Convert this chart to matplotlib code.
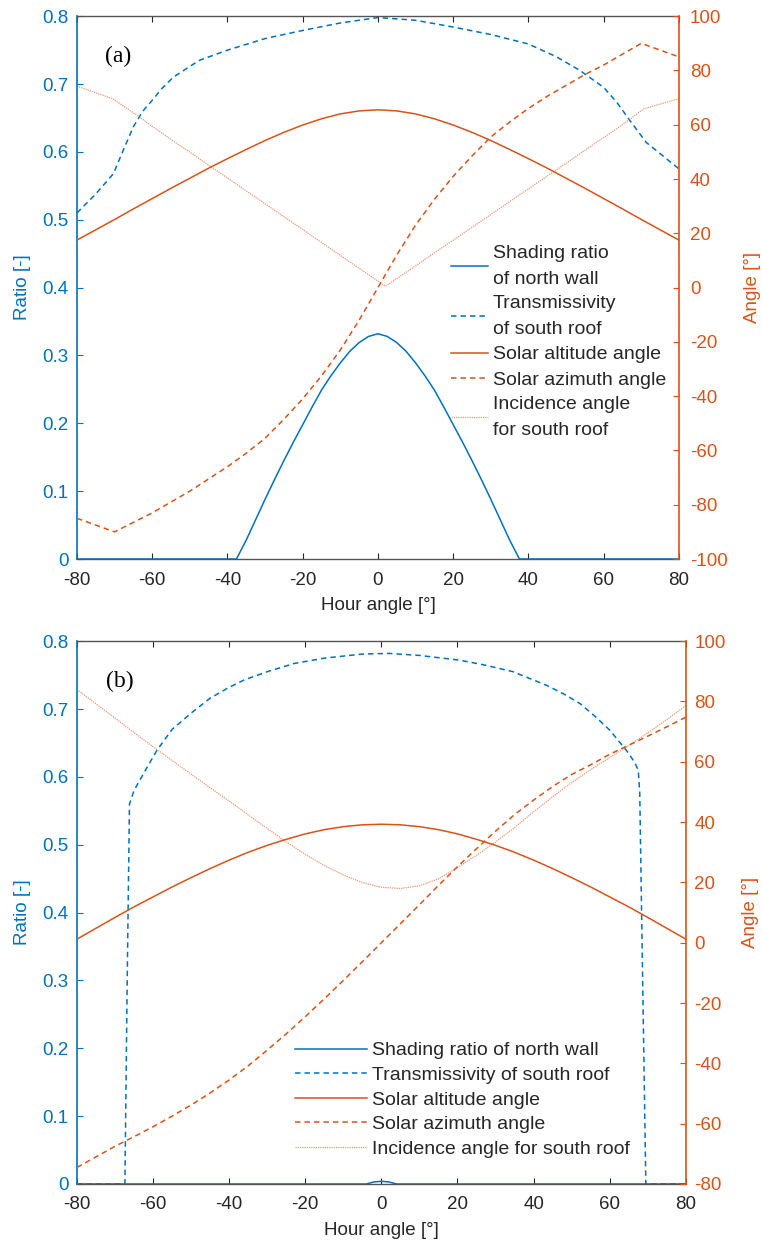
import matplotlib.pyplot as plt

plt.rcParams['font.family'] = ['Liberation Sans', 'DejaVu Sans']
plt.rcParams['axes.unicode_minus'] = False

BLUE = '#0072BD'
ORANGE = '#D95319'
DARK = '#262626'

# ---------------- panel (a) data ----------------
a_shade_h = [-80, -37.6, -35, -32.5, -30, -27.5, -25, -22.5, -20, -17.5, -15, -12.5, -10, -7.5, -5, -2.5, 0,
             2.5, 5, 7.5, 10, 12.5, 15, 17.5, 20, 22.5, 25, 27.5, 30, 32.5, 35, 37.6, 80]
a_shade = [0, 0, 0.028, 0.058, 0.088, 0.117, 0.145, 0.172, 0.198, 0.224, 0.249, 0.27, 0.289, 0.306, 0.319, 0.328, 0.332,
           0.328, 0.319, 0.306, 0.289, 0.27, 0.249, 0.224, 0.198, 0.172, 0.145, 0.117, 0.088, 0.058, 0.028, 0, 0]

a_trans_h = [-80, -75, -70.3, -67.5, -65, -62.5, -60, -57.5, -54.4, -50, -47.4, -40, -30, -20, -10, 0,
             10, 20, 30, 40, 47.5, 53.7, 60, 63.5, 67, 71.3, 80]
a_trans = [0.51, 0.538, 0.568, 0.605, 0.637, 0.66, 0.676, 0.693, 0.71, 0.726, 0.735, 0.75, 0.767, 0.779, 0.79, 0.798,
           0.794, 0.784, 0.773, 0.759, 0.74, 0.72, 0.695, 0.673, 0.646, 0.614, 0.575]

a_ang_h = [-80, -75, -70, -65, -60, -55, -50, -45, -40, -35, -30, -25, -20, -15, -10, -5, 0,
           5, 10, 15, 20, 25, 30, 35, 40, 45, 50, 55, 60, 65, 70, 75, 80]
a_alt = [17.5, 21.3, 25.1, 29.0, 32.8, 36.6, 40.3, 44.0, 47.5, 50.9, 54.2, 57.2, 59.9, 62.2, 64.0, 65.1, 65.5,
         65.1, 64.0, 62.2, 59.9, 57.2, 54.2, 50.9, 47.5, 44.0, 40.3, 36.6, 32.8, 29.0, 25.1, 21.3, 17.5]
a_azi = [-85, -87.5, -90, -86.5, -83, -79, -75, -70.5, -66, -61, -55.5, -48.5, -41, -32.5, -23, -12, 0,
         12, 23, 32.5, 41, 48.5, 55.5, 61, 66, 70.5, 74.5, 78.5, 82, 86, 90, 87.5, 85]

a_inc_h = [-80, -70.5, -65, -60, -55, -50, -45, -40, -35, -30, -25, -20, -15, -10, -5, 0, 2,
           5, 10, 15, 20, 25, 30, 35, 40, 45, 50, 55, 60, 65, 70.7, 80]
a_inc = [74.2, 69.6, 64.4, 59.4, 54.6, 49.9, 45.1, 40.4, 35.6, 30.9, 26.1, 21.4, 16.6, 11.9, 7.1, 2.4, 0.5,
         3.3, 8.0, 12.8, 17.5, 22.2, 26.9, 31.7, 36.4, 41.1, 45.8, 50.6, 55.3, 60.0, 65.9, 69.6]

# ---------------- panel (b) data ----------------
b_shade_h = [-80, -4, -2, 0, 2, 4, 80]
b_shade = [0, 0, 0.003, 0.004, 0.003, 0, 0]

b_trans_h = [-80, -67.4, -66.8, -66.2, -65, -62.5, -59, -55, -50, -45, -40, -36, -30, -23, -15, -5, 2,
             10, 20.6, 27, 34.6, 43.4, 48, 52.2, 56, 60, 64.4, 66.5, 67.5, 67.9, 68.4, 69.5, 80]
b_trans = [0, 0, 0.3, 0.56, 0.58, 0.605, 0.639, 0.67, 0.694, 0.716, 0.732, 0.743, 0.755, 0.767, 0.775, 0.781, 0.782,
           0.779, 0.772, 0.765, 0.755, 0.735, 0.722, 0.708, 0.69, 0.669, 0.639, 0.622, 0.61, 0.576, 0.394, 0, 0]

b_ang_h = a_ang_h
b_alt = [1.2, 4.8, 8.4, 11.9, 15.2, 18.5, 21.6, 24.6, 27.4, 30.0, 32.3, 34.3, 36.1, 37.5, 38.5, 39.1, 39.3,
         39.1, 38.5, 37.5, 36.1, 34.3, 32.3, 30.0, 27.4, 24.6, 21.6, 18.5, 15.2, 11.9, 8.4, 4.8, 1.2]
b_azi = [-74.5, -71, -67.5, -64.3, -61, -57.5, -53.8, -49.8, -45.5, -40.8, -35.6, -30.2, -24.5, -18.6, -12.5, -6.3, 0,
         6.3, 12.6, 19, 25.2, 31.2, 37, 42.5, 47.3, 51.8, 55.8, 59, 62.5, 65.5, 68.5, 71.6, 74.8]
b_inc = [84, 79.2, 74.5, 69.7, 65, 60.4, 55.9, 51.4, 47, 42.4, 37.9, 33.5, 29.3, 25.6, 22.5, 20.0, 18.4,
         18.0, 18.9, 21.2, 24.9, 29.0, 33.4, 38.2, 43.4, 48.4, 53.1, 57.4, 61.4, 65.4, 69.6, 74, 78.6]

xticks = [-80, -60, -40, -20, 0, 20, 40, 60, 80]
ratio_ticks = [0, 0.1, 0.2, 0.3, 0.4, 0.5, 0.6, 0.7, 0.8]

labels_a = ['Shading ratio\nof north wall', 'Transmissivity\nof south roof', 'Solar altitude angle',
            'Solar azimuth angle', 'Incidence angle\nfor south roof']
labels_b = ['Shading ratio of north wall', 'Transmissivity of south roof', 'Solar altitude angle',
            'Solar azimuth angle', 'Incidence angle for south roof']

fig = plt.figure(figsize=(7.62, 12.45), dpi=100)

DASH = (0, (3.6, 2.6))
DOT = (0, (1, 0.8))


def panel(rect, tag, shade_h, shade, trans_h, trans, ang_h, alt, azi, inc_h, inc, ang_lim, ang_ticks,
          labels, leg_anchor, handlelen, rpad, lspace):
    ax = fig.add_axes(rect)
    ax2 = ax.twinx()
    l1, = ax.plot(shade_h, shade, color=BLUE, lw=1.1, clip_on=False)
    l2, = ax.plot(trans_h, trans, color=BLUE, lw=1.1, ls=DASH, clip_on=False)
    l3, = ax2.plot(ang_h, alt, color=ORANGE, lw=1.1)
    l4, = ax2.plot(ang_h, azi, color=ORANGE, lw=1.1, ls=DASH)
    l5, = ax2.plot(inc_h, inc, color=ORANGE, lw=0.9, ls=DOT, alpha=0.6)

    ax.set_xlim(-80, 80)
    ax.set_ylim(0, 0.8)
    ax2.set_ylim(*ang_lim)
    ax.set_xticks(xticks)
    ax.set_yticks(ratio_ticks)
    ax.set_yticklabels(['0' if v == 0 else f'{v:.1f}' for v in ratio_ticks])
    ax2.set_yticks(ang_ticks)

    ax.tick_params(axis='x', direction='in', top=True, length=4.5, width=0.8, color=DARK,
                   labelsize=13.5, labelcolor=DARK, pad=9)
    ax.tick_params(axis='y', direction='in', length=4.5, width=0.8, color=BLUE,
                   labelsize=13.5, labelcolor=BLUE, pad=6)
    ax2.tick_params(axis='y', direction='in', length=4.5, width=0.8, color=ORANGE,
                    labelsize=13.5, labelcolor=ORANGE, pad=rpad)

    for s in ['top', 'bottom']:
        ax.spines[s].set_color('#555555')
        ax.spines[s].set_linewidth(1.0)
    ax.spines['left'].set_color(BLUE)
    ax.spines['left'].set_linewidth(1.2)
    ax.spines['right'].set_visible(False)
    for s in ['left', 'top', 'bottom']:
        ax2.spines[s].set_visible(False)
    ax2.spines['right'].set_color(ORANGE)
    ax2.spines['right'].set_linewidth(1.2)

    ax.set_xlabel('Hour angle [°]', fontsize=13.5, color=DARK, labelpad=6)
    ax.set_ylabel('Ratio [-]', fontsize=13.5, color=BLUE, labelpad=8)
    ax2.set_ylabel('Angle [°]', fontsize=13.5, color=ORANGE, labelpad=12)

    ax.text(-72.5, 0.74, tag, fontsize=17, family='Liberation Serif', ha='left', va='center', color='black')

    leg = ax2.legend([l1, l2, l3, l4, l5], labels, loc='upper left', bbox_to_anchor=leg_anchor,
                     frameon=False, fontsize=14, borderpad=0, borderaxespad=0,
                     handlelength=handlelen, handletextpad=0.25, labelspacing=lspace)
    for t in leg.get_texts():
        t.set_color(DARK)
        t.set_linespacing(1.65)
    return ax, ax2


panel([0.101, 0.551, 0.790, 0.436], '(a)', a_shade_h, a_shade, a_trans_h, a_trans, a_ang_h, a_alt, a_azi,
      a_inc_h, a_inc, (-100, 100), list(range(-100, 101, 20)), labels_a, (0.621, 0.578), 1.9, 8, 0.4)

panel([0.101, 0.049, 0.799, 0.436], '(b)', b_shade_h, b_shade, b_trans_h, b_trans, b_ang_h, b_alt, b_azi,
      b_ang_h, b_inc, (-80, 100), list(range(-80, 101, 20)), labels_b, (0.358, 0.262), 3.7, 6, 0.36)

fig.savefig('out.png', dpi=100)
